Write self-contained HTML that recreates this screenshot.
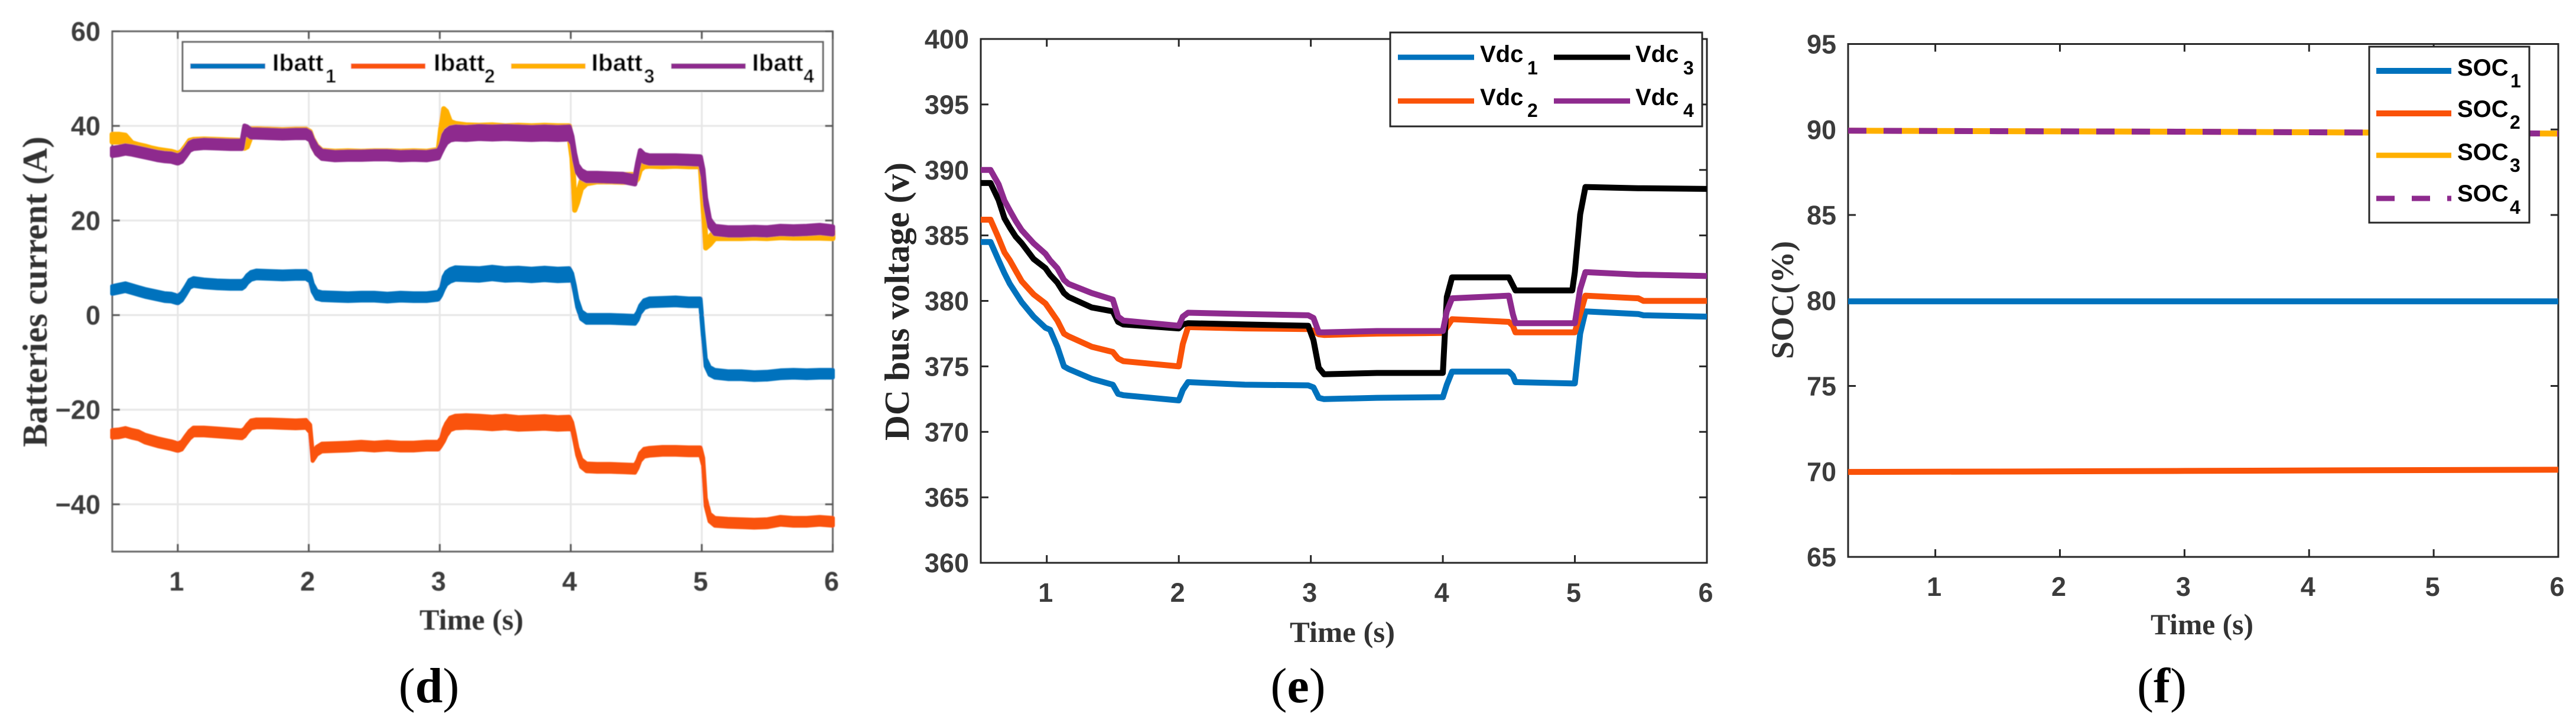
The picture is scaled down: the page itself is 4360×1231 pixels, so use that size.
<!DOCTYPE html>
<html lang="en">
<head>
<meta charset="utf-8">
<title>Batteries current, DC bus voltage and SOC</title>
<style>
html,body{margin:0;padding:0;background:#fff;width:4360px;height:1231px;overflow:hidden}
svg{display:block}
.tick{font-family:"Liberation Sans",sans-serif;font-weight:700;font-size:45px;fill:#3c3c3c}
.axis-title{font-family:"Liberation Serif",serif;font-weight:700;fill:#333}
.leg{font-family:"Liberation Sans",sans-serif;font-weight:700;font-size:40px;fill:#000}
.sub{font-family:"Liberation Sans",sans-serif;font-weight:700;font-size:32px;fill:#000}
.cap{font-family:"Liberation Serif",serif;font-size:84px;fill:#000}
</style>
</head>
<body>
<svg xmlns="http://www.w3.org/2000/svg" width="4360" height="1231" viewBox="0 0 4360 1231">
<defs>
<filter id="soft" x="-5%" y="-5%" width="110%" height="110%"><feGaussianBlur stdDeviation="0.8"/></filter>
</defs>
<rect width="4360" height="1231" fill="#fff"/>

<g filter="url(#soft)">
  <g id="grid-d"></g>
  <g id="axes-d"></g>
  <g id="marks-d"></g>
  <g>
    <rect x="309" y="71" width="1084" height="83" fill="#fff" stroke="#666" stroke-width="3"/>
    <line x1="322" x2="449" y1="112" y2="112" stroke="#0072BD" stroke-width="9"/>
    <line x1="594" x2="720" y1="112" y2="112" stroke="#FA5208" stroke-width="9"/>
    <line x1="865" x2="991" y1="112" y2="112" stroke="#FFB000" stroke-width="9"/>
    <line x1="1136" x2="1262" y1="112" y2="112" stroke="#8E2A8E" stroke-width="9"/>
    <text class="leg" style="font-size:41px" x="461" y="120">Ibatt<tspan class="sub" x="551" y="140">1</tspan></text>
    <text class="leg" style="font-size:41px" x="734" y="120">Ibatt<tspan class="sub" x="820" y="140">2</tspan></text>
    <text class="leg" style="font-size:41px" x="1001" y="120">Ibatt<tspan class="sub" x="1090" y="140">3</tspan></text>
    <text class="leg" style="font-size:41px" x="1273" y="120">Ibatt<tspan class="sub" x="1360" y="140">4</tspan></text>
  </g>
  <text class="axis-title" font-size="59" transform="rotate(-90 79 757)" x="79" y="757" textLength="526" lengthAdjust="spacingAndGlyphs">Batteries current (A)</text>
  <text class="axis-title" font-size="50" x="710" y="1066" textLength="176" lengthAdjust="spacingAndGlyphs">Time (s)</text>
</g>

<g>
  <g id="axes-e"></g>
  <g id="marks-e"></g>
  <g>
    <rect x="2353" y="55" width="528" height="159" fill="#fff" stroke="#262626" stroke-width="3"/>
    <line x1="2366" x2="2495" y1="97" y2="97" stroke="#0072BD" stroke-width="9"/>
    <line x1="2630" x2="2759" y1="97" y2="97" stroke="#000" stroke-width="9"/>
    <line x1="2366" x2="2495" y1="171" y2="171" stroke="#FA5208" stroke-width="9"/>
    <line x1="2630" x2="2759" y1="171" y2="171" stroke="#8E2A8E" stroke-width="9"/>
    <text class="leg" x="2505" y="105">Vdc<tspan class="sub" x="2585" y="126">1</tspan></text>
    <text class="leg" x="2768" y="105">Vdc<tspan class="sub" x="2849" y="126">3</tspan></text>
    <text class="leg" x="2505" y="178">Vdc<tspan class="sub" x="2585" y="198">2</tspan></text>
    <text class="leg" x="2768" y="178">Vdc<tspan class="sub" x="2849" y="198">4</tspan></text>
  </g>
  <text class="axis-title" style="fill:#262626" font-size="59" transform="rotate(-90 1538 746)" x="1538" y="746" textLength="471" lengthAdjust="spacingAndGlyphs">DC bus voltage (v)</text>
  <text class="axis-title" font-size="50" x="2183" y="1087" textLength="178" lengthAdjust="spacingAndGlyphs">Time (s)</text>
</g>

<g>
  <g id="axes-f"></g>
  <g id="marks-f"></g>
  <g>
    <rect x="4010" y="79" width="271" height="298" fill="#fff" stroke="#262626" stroke-width="3"/>
    <line x1="4022" x2="4149" y1="120" y2="120" stroke="#0072BD" stroke-width="10"/>
    <line x1="4022" x2="4149" y1="192" y2="192" stroke="#FA5208" stroke-width="10"/>
    <line x1="4022" x2="4149" y1="263" y2="263" stroke="#FFB000" stroke-width="9"/>
    <line x1="4022" x2="4149" y1="336" y2="336" stroke="#8E2A8E" stroke-width="9" stroke-dasharray="31 29"/>
    <text class="leg" x="4159" y="128">SOC<tspan class="sub" x="4249" y="148">1</tspan></text>
    <text class="leg" x="4159" y="198">SOC<tspan class="sub" x="4248" y="218">2</tspan></text>
    <text class="leg" x="4159" y="271">SOC<tspan class="sub" x="4248" y="291">3</tspan></text>
    <text class="leg" x="4159" y="341">SOC<tspan class="sub" x="4248" y="362">4</tspan></text>
  </g>
  <text class="axis-title" font-size="54" transform="rotate(-90 3035 608)" x="3035" y="608" textLength="200" lengthAdjust="spacingAndGlyphs">SOC(%)</text>
  <text class="axis-title" font-size="50" x="3640" y="1074" textLength="174" lengthAdjust="spacingAndGlyphs">Time (s)</text>
</g>

<text class="cap" x="726" y="1189" text-anchor="middle">(<tspan font-weight="700">d</tspan>)</text>
<text class="cap" x="2197" y="1189" text-anchor="middle">(<tspan font-weight="700">e</tspan>)</text>
<text class="cap" x="3659" y="1189" text-anchor="middle">(<tspan font-weight="700">f</tspan>)</text>
</svg>

<script>
// ---- Shared tick values ----
const xTickValues = [1, 2, 3, 4, 5, 6];
const yTicksD = [60, 40, 20, 0, -20, -40];
const yTicksE = [400, 395, 390, 385, 380, 375, 370, 365, 360];
const yTicksF = [95, 90, 85, 80, 75, 70, 65];

// ---- Panel (d): batteries current (A) ----
const timeD = [.5,.55,.6,.65,.7,.75,.8,.85,.9,.95,1,1.03,1.06,1.09,1.12,1.2,1.3,1.4,1.49,1.51,1.53,1.56,1.6,1.7,1.8,1.9,1.98,2.01,2.03,2.06,2.1,2.2,2.3,2.4,2.5,2.6,2.7,2.8,2.9,2.99,3.01,3.03,3.05,3.08,3.12,3.2,3.3,3.4,3.5,3.6,3.7,3.8,3.9,3.99,4.01,4.03,4.05,4.08,4.12,4.2,4.3,4.4,4.49,4.51,4.53,4.56,4.6,4.7,4.8,4.9,4.99,5.01,5.03,5.06,5.1,5.2,5.3,5.4,5.5,5.6,5.7,5.8,5.9,6];
const ibatt1 = [5.3,5.6,5.9,5.5,5.1,4.7,4.4,4.1,3.8,3.7,3.3,3.9,5.2,6.6,7.0,6.7,6.5,6.4,6.4,6.8,7.6,8.3,8.6,8.5,8.4,8.5,8.5,7.9,5.8,4.3,4.0,3.9,3.8,3.9,3.9,3.7,3.9,3.8,3.8,4.1,5.0,6.8,7.8,8.4,8.8,8.7,8.6,8.9,8.6,8.7,8.5,8.7,8.5,8.6,8.0,5.5,2.5,0.0,-0.8,-0.8,-0.8,-0.9,-1.0,-0.2,1.2,2.3,2.7,2.8,2.9,2.7,2.7,-4,-10,-11.8,-12.4,-12.7,-12.7,-12.9,-12.8,-12.5,-12.4,-12.5,-12.4,-12.4];
const ibatt2 = [-25.1,-25.0,-24.7,-25.1,-25.4,-26.1,-26.5,-26.9,-27.2,-27.5,-27.9,-27.6,-26.4,-25.3,-24.6,-24.6,-24.8,-25.0,-25.2,-24.8,-24,-23.1,-22.9,-22.9,-23,-23.1,-23,-24,-30,-28.7,-28,-27.9,-27.8,-27.6,-27.8,-27.6,-27.8,-27.8,-27.6,-27.6,-26.8,-25.4,-24.2,-23,-22.6,-22.5,-22.6,-22.8,-22.6,-22.9,-22.8,-22.7,-22.9,-22.8,-23.5,-26,-28.8,-31.3,-32.2,-32.3,-32.3,-32.4,-32.5,-31.5,-30,-29.1,-28.9,-28.7,-28.7,-28.8,-28.8,-31,-39.5,-42.8,-43.7,-43.9,-44.0,-44.1,-44.0,-43.5,-43.7,-43.7,-43.5,-43.7];
const ibatt3 = [37.4,37.4,37.2,35.6,35.2,34.9,34.5,34.2,34.0,33.8,33.4,33.8,34.9,36.1,36.3,36.4,36.3,36.2,36.1,36.1,36.4,38.6,38.6,38.5,38.4,38.5,38.5,38.0,36.5,35,34.0,33.8,33.9,33.8,33.9,33.9,33.8,33.9,33.8,34.2,39,42.3,41.8,39.6,39.2,38.9,38.8,38.9,38.7,38.8,38.7,38.8,38.7,38.7,34,23,24.5,27.5,28.6,29,29,28.9,28.9,29.6,31.5,32.2,32.3,32.2,32.3,32.2,32.2,24,15,15.7,17,17.0,17,17.1,17,17.2,17.1,17.1,17.1,17];
const ibatt4 = [34.5,34.7,35,34.8,34.5,34.2,33.9,33.6,33.4,33.3,32.9,33.3,34.4,35.6,36,36.2,36.1,36,36,39.2,39,38.4,38.4,38.3,38.2,38.3,38.3,37.8,36.4,34.9,33.9,33.6,33.7,33.7,33.8,33.8,33.6,33.7,33.6,34,35.2,36.8,37.7,38.3,38.5,38.4,38.6,38.5,38.6,38.5,38.4,38.5,38.4,38.5,37,33.5,31,29.8,29.2,29.2,29.1,29,28.5,31.5,34,33.2,32.9,32.9,32.9,32.8,32.7,30,24,19.5,18,17.7,17.7,17.8,17.7,18,17.9,18,18.2,17.9];
// Half-height of the noisy band in amps, by the time it starts from
const noiseFrom = [.5, 3.02, 4.0];
const noiseAmp = [.8, 1.3, .8];

// ---- Panel (e): DC bus voltage (V) ----
const timeE = [.5,.574,.635,.68,.72,.765,.81,.9,.99,1.025,1.08,1.13,1.165,1.34,1.5,1.54,1.58,2.0,2.03,2.07,2.5,2.98,3.02,3.06,3.1,3.5,4.0,4.03,4.07,4.5,4.53,4.55,4.98,5.0,5.04,5.08,5.48,5.52,6];
const vdc1 = [384.5,384.5,383.1,382.1,381.3,380.6,379.9,378.8,377.95,377.8,376.5,375,374.8,374.05,373.6,372.9,372.8,372.4,373.2,373.8,373.6,373.55,373.4,372.6,372.5,372.6,372.65,373.6,374.6,374.6,374.3,373.8,373.7,373.7,377.5,379.2,379,378.9,378.8];
const vdc2 = [386.2,386.2,384.8,383.7,383.1,382.3,381.5,380.5,379.8,379.3,378.5,377.5,377.3,376.5,376.1,375.6,375.4,375,376.7,378,377.9,377.85,377.7,377.45,377.4,377.5,377.55,378,378.6,378.4,378.1,377.6,377.6,377.6,379,380.4,380.2,380,380];
const vdc3 = [389,389,387.7,386.3,385.6,384.9,384.4,383.2,382.5,382,381.4,380.6,380.3,379.5,379.2,378.4,378.2,377.9,378.2,378.3,378.2,378.1,377,374.9,374.4,374.5,374.5,380.3,381.8,381.8,381.2,380.8,380.8,382.2,386.6,388.7,388.6,388.6,388.55];
const vdc4 = [390,390,388.9,387.65,386.9,386.1,385.4,384.4,383.6,383.1,382.5,381.6,381.3,380.6,380.1,378.8,378.5,378.1,378.8,379.1,379,378.9,378.7,377.6,377.6,377.7,377.7,379.2,380.2,380.4,379,378.3,378.3,378.3,380.9,382.2,382,382,381.9];

// ---- Panel (f): state of charge (%) ----
const timeF = [.3, 1.5, 3, 4.5, 6];
const soc1 = [79.95, 79.95, 79.95, 79.95, 79.95];
const soc2 = [69.97, 69.99, 70.03, 70.07, 70.1];
const soc3 = [89.93, 89.9, 89.87, 89.82, 89.76];
const soc4 = [89.93, 89.9, 89.87, 89.82, 89.76];

// ---- Helpers ----
const NS = 'http://www.w3.org/2000/svg';
function linear(d0, d1, r0, r1) { return v => r0 + (v - d0) * (r1 - r0) / (d1 - d0); }
function make(parent, tag, attrs) {
  const el = document.createElementNS(NS, tag);
  for (const k in attrs) el.setAttribute(k, attrs[k]);
  parent.appendChild(el);
  return el;
}
function noiseAt(t) {
  let a = noiseAmp[0];
  noiseFrom.forEach((f, i) => { if (t >= f) a = noiseAmp[i]; });
  return a;
}
function linePath(ts, vs, x, y) {
  return ts.map((t, i) => (i ? 'L' : 'M') + x(t).toFixed(1) + ' ' + y(vs[i]).toFixed(1)).join('');
}
function bandPath(ts, vs, x, y) {
  const up = ts.map((t, i) => x(t).toFixed(1) + ' ' + y(vs[i] + noiseAt(t)).toFixed(1));
  const lo = ts.map((t, i) => x(t).toFixed(1) + ' ' + y(vs[i] - noiseAt(t)).toFixed(1)).reverse();
  return 'M' + up.concat(lo).join('L') + 'Z';
}
function drawAxes(id, box, x, y, yTicks, stroke, tickStroke) {
  const g = document.getElementById(id);
  const frame = make(g, 'rect', {x: box.l, y: box.t, width: box.r - box.l, height: box.b - box.t, fill: 'none', stroke: stroke, 'stroke-width': 3});
  
  
  xTickValues.forEach(v => {
    const px = x(v);
    const bottom = make(g, 'line', {x1: px, x2: px, y1: box.b, y2: box.b - 13, stroke: tickStroke, 'stroke-width': 3});
    
    
    const top = make(g, 'line', {x1: px, x2: px, y1: box.t, y2: box.t + 13, stroke: tickStroke, 'stroke-width': 3});
    
    
    const label = make(g, 'text', {x: px - 2, y: box.b + 66, 'text-anchor': 'middle', class: 'tick'});
    label.textContent = String(v);
    
    
  });
  yTicks.forEach(v => {
    const py = y(v);
    const left = make(g, 'line', {x1: box.l, x2: box.l + 13, y1: py, y2: py, stroke: tickStroke, 'stroke-width': 3});
    
    
    const right = make(g, 'line', {x1: box.r, x2: box.r - 13, y1: py, y2: py, stroke: tickStroke, 'stroke-width': 3});
    
    
    const label = make(g, 'text', {x: box.l - 20, y: py + 16, 'text-anchor': 'end', class: 'tick'});
    label.textContent = String(v).replace('-', '\u2212');
    
    
  });
}

// ---- Panel (d) ----
const boxD = {l: 190, r: 1409.5, t: 53, b: 934};
const xD = linear(.5, 6, boxD.l, boxD.r);
const yD = linear(60, -50, boxD.t, boxD.b);
const gridD = document.getElementById('grid-d');
xTickValues.slice(0, 5).forEach(v => {
  const gl = make(gridD, 'line', {x1: xD(v), x2: xD(v), y1: boxD.t, y2: boxD.b, stroke: '#e6e6e6', 'stroke-width': 3});
  
  
});
yTicksD.slice(1).forEach(v => {
  const gl = make(gridD, 'line', {x1: boxD.l, x2: boxD.r, y1: yD(v), y2: yD(v), stroke: '#e6e6e6', 'stroke-width': 3});
  
  
});
drawAxes('axes-d', boxD, xD, yD, yTicksD, '#666', '#555');
const marksD = document.getElementById('marks-d');
const bandIbatt1 = make(marksD, 'path', {d: bandPath(timeD, ibatt1, xD, yD), fill: '#0072BD', stroke: '#0072BD', 'stroke-width': 7, 'stroke-linejoin': 'round'});


const bandIbatt2 = make(marksD, 'path', {d: bandPath(timeD, ibatt2, xD, yD), fill: '#FA5208', stroke: '#FA5208', 'stroke-width': 7, 'stroke-linejoin': 'round'});


const bandIbatt3 = make(marksD, 'path', {d: bandPath(timeD, ibatt3, xD, yD), fill: '#FFB000', stroke: '#FFB000', 'stroke-width': 9, 'stroke-linejoin': 'round'});


const bandIbatt4 = make(marksD, 'path', {d: bandPath(timeD, ibatt4, xD, yD), fill: '#8E2A8E', stroke: '#8E2A8E', 'stroke-width': 8, 'stroke-linejoin': 'round'});



// ---- Panel (e) ----
const boxE = {l: 1660, r: 2889, t: 66, b: 953};
const xE = linear(.5, 6, boxE.l, boxE.r);
const yE = linear(400, 360, boxE.t, boxE.b);
drawAxes('axes-e', boxE, xE, yE, yTicksE, '#262626', '#262626');
const marksE = document.getElementById('marks-e');
const lineVdc1 = make(marksE, 'path', {d: linePath(timeE, vdc1, xE, yE), fill: 'none', stroke: '#0072BD', 'stroke-width': 10, 'stroke-linejoin': 'round'});


const lineVdc2 = make(marksE, 'path', {d: linePath(timeE, vdc2, xE, yE), fill: 'none', stroke: '#FA5208', 'stroke-width': 10, 'stroke-linejoin': 'round'});


const lineVdc3 = make(marksE, 'path', {d: linePath(timeE, vdc3, xE, yE), fill: 'none', stroke: '#000', 'stroke-width': 10, 'stroke-linejoin': 'round'});


const lineVdc4 = make(marksE, 'path', {d: linePath(timeE, vdc4, xE, yE), fill: 'none', stroke: '#8E2A8E', 'stroke-width': 10, 'stroke-linejoin': 'round'});



// ---- Panel (f) ----
const boxF = {l: 3128, r: 4330, t: 74.5, b: 943};
const xF = linear(.3, 6, boxF.l, boxF.r);
const yF = linear(95, 65, boxF.t, boxF.b);
drawAxes('axes-f', boxF, xF, yF, yTicksF, '#262626', '#262626');
const marksF = document.getElementById('marks-f');
const lineSoc1 = make(marksF, 'path', {d: linePath(timeF, soc1, xF, yF), fill: 'none', stroke: '#0072BD', 'stroke-width': 10});


const lineSoc2 = make(marksF, 'path', {d: linePath(timeF, soc2, xF, yF), fill: 'none', stroke: '#FA5208', 'stroke-width': 10});


const lineSoc3 = make(marksF, 'path', {d: linePath(timeF, soc3, xF, yF), fill: 'none', stroke: '#FFB000', 'stroke-width': 10});


const lineSoc4 = make(marksF, 'path', {d: linePath(timeF, soc4, xF, yF), fill: 'none', stroke: '#8E2A8E', 'stroke-width': 10, 'stroke-dasharray': '31 29'});


</script>
</body>
</html>
